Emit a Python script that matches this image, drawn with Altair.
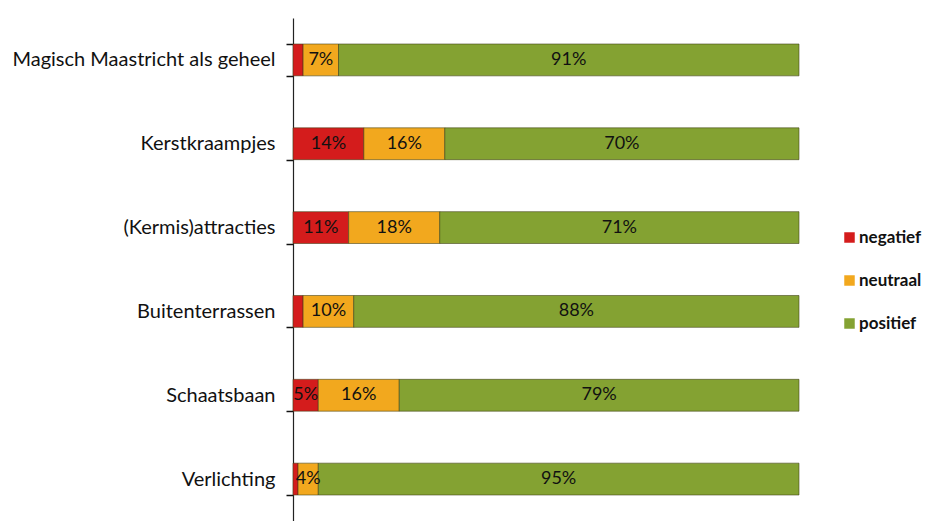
import altair as alt
import pandas as pd

categories = ["Magisch Maastricht als geheel", "Kerstkraampjes", "(Kermis)attracties",
              "Buitenterrassen", "Schaatsbaan", "Verlichting"]
series = ["negatief", "neutraal", "positief"]
negatief = [2, 14, 11, 2, 5, 1]
neutraal = [7, 16, 18, 10, 16, 4]
positief = [91, 70, 71, 88, 79, 95]
colors = ["#d41c1c", "#f2a81e", "#84a232"]

rows = []
for i, c in enumerate(categories):
    for j, (s, vals) in enumerate(zip(series, [negatief, neutraal, positief])):
        rows.append({"cat": c, "serie": s, "value": vals[i], "order": j})
df = pd.DataFrame(rows)

FONT = "Lato"

base = alt.Chart(df).transform_stack(
    stack="value", groupby=["cat"], as_=["x0", "x1"], sort=[alt.SortField("order")]
).transform_calculate(
    mid="(datum.x0 + datum.x1) / 2", label="datum.value + '%'"
)

y = alt.Y("cat:N", sort=categories, title=None,
          scale=alt.Scale(paddingInner=0.62, paddingOuter=0.31),
          axis=alt.Axis(labelFont=FONT, labelFontSize=20, labelColor="#111111", labelLimit=400,
                        ticks=True, tickBand="extent", tickSize=7, tickColor="#111111",
                        domainColor="#222222", labelPadding=11, tickWidth=1.5, domainWidth=1.2))

bars = base.mark_bar(stroke="#3d3d14", strokeWidth=0.8, strokeOpacity=0.7).encode(
    x=alt.X("x0:Q", scale=alt.Scale(domain=[0, 100]), axis=None),
    x2="x1:Q",
    y=y,
    color=alt.Color("serie:N", sort=series,
                    scale=alt.Scale(domain=series, range=colors),
                    legend=alt.Legend(title=None, orient="none", legendX=548, legendY=211,
                                      labelFont=FONT, labelFontSize=17, labelFontWeight="bold",
                                      labelColor="#111111", labelOffset=1,
                                      symbolType="square", symbolSize=110, rowPadding=25,
                                      symbolStrokeWidth=0)),
    order=alt.Order("order:Q"),
)

text = base.transform_filter("datum.value >= 3").mark_text(
    font=FONT, fontSize=18, color="#111111"
).encode(
    x="mid:Q",
    y=alt.Y("cat:N", sort=categories),
    text="label:N",
)

chart = alt.layer(bars, text).properties(
    width=506, height=503, background="white",
    padding={"top": 0, "left": 3, "right": 0, "bottom": 0},
).configure_view(strokeWidth=0)

chart.save("out.html", embed_options={"renderer": "svg", "actions": False})
